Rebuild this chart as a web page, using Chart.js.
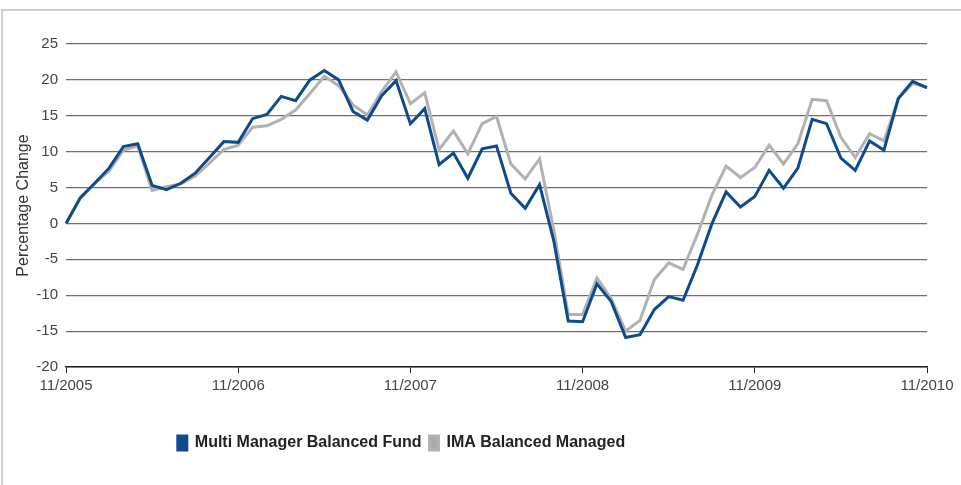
<!DOCTYPE html>
<html>
<head>
<meta charset="utf-8">
<script src="https://cdn.jsdelivr.net/npm/chart.js@4/dist/chart.umd.min.js"></script>
<style>
  html, body { margin: 0; padding: 0; background: #fff; }
  #wrap { position: relative; width: 961px; height: 485px; }
  #frame { position: absolute; left: 1px; top: 9px; right: -2px; bottom: -2px;
           border-top: 2px solid #cfcfcf; border-left: 2px solid #cfcfcf; }
  canvas { position: absolute; left: 0; top: 0; }
</style>
</head>
<body>
<div id="wrap">
  <div id="frame"></div>
  <canvas id="c" width="961" height="485"></canvas>
</div>
<script>
// monthly points, 11/2005 .. 11/2010
const startYear = 2005;
const months = [];
for (let i = 0; i <= 60; i++) {
  const m = ((10 + i) % 12) + 1;
  const y = startYear + Math.floor((10 + i) / 12);
  months.push(String(m).padStart(2, '0') + '/' + y);
}
const yearTicks = ['11/2005', '11/2006', '11/2007', '11/2008', '11/2009', '11/2010'];

const fund = [0, 3.6, 5.6, 7.7, 10.7, 11.1, 5.3, 4.7, 5.6, 7.0, 9.2, 11.4,
  11.3, 14.6, 15.2, 17.7, 17.1, 20.0, 21.3, 20.0, 15.6, 14.4, 17.8, 19.9,
  13.9, 16.0, 8.2, 9.8, 6.3, 10.4, 10.8, 4.2, 2.1, 5.4, -2.5, -13.6,
  -13.7, -8.4, -10.9, -15.9, -15.5, -12.0, -10.2, -10.7, -5.8, -0.1, 4.4, 2.3,
  3.75, 7.4, 4.9, 7.7, 14.5, 13.9, 9.1, 7.4, 11.5, 10.2, 17.4, 19.8, 18.9];

const sector = [0, 3.5, 5.6, 7.3, 10.2, 10.8, 4.6, 5.1, 5.5, 6.6, 8.4, 10.3,
  10.9, 13.4, 13.6, 14.5, 15.8, 18.1, 20.5, 19.2, 16.5, 15.1, 18.4, 21.1,
  16.7, 18.2, 10.3, 12.9, 9.7, 13.9, 14.9, 8.3, 6.2, 9.0, -1.0, -12.7,
  -12.7, -7.6, -10.5, -15.0, -13.5, -7.8, -5.5, -6.4, -1.5, 3.9, 8.0, 6.4,
  7.8, 10.9, 8.3, 11.1, 17.3, 17.1, 12.0, 9.2, 12.5, 11.5, 17.4, 19.5, 19.0];

const font = 'Liberation Sans, Arial, sans-serif';

// nudge the legend left so it sits under the plot like the original
const legendShift = {
  id: 'legendShift',
  afterLayout(chart) {
    chart.legend.left -= 62;
    chart.legend.right -= 62;
  }
};

new Chart(document.getElementById('c'), {
  type: 'line',
  data: {
    labels: months,
    datasets: [
      {
        label: 'Multi Manager Balanced Fund',
        data: fund,
        borderColor: '#0e4b8b',
        backgroundColor: '#0e4b8b',
        borderWidth: 3,
        pointRadius: 0,
        tension: 0,
        order: 1
      },
      {
        label: 'IMA Balanced Managed',
        data: sector,
        borderColor: '#b2b2b2',
        backgroundColor: '#a9a9a9',
        borderWidth: 3,
        pointRadius: 0,
        tension: 0,
        order: 2
      }
    ]
  },
  options: {
    responsive: false,
    animation: false,
    layout: { padding: { top: 44, right: 34, bottom: 24, left: 0 } },
    plugins: {
      tooltip: { enabled: false },
      legend: {
        position: 'bottom',
        labels: {
          color: '#222',
          font: { family: font, size: 16, weight: 'bold' },
          boxWidth: 9,
          boxHeight: 14,
          padding: 8
        }
      }
    },
    scales: {
      x: {
        offset: false,
        afterFit: s => { s.height = 60; },
        border: { display: true, color: '#222', width: 1.5 },
        grid: {
          drawOnChartArea: false,
          tickLength: 6,
          color: ctx => yearTicks.includes(months[ctx.index]) ? '#222' : 'rgba(0,0,0,0)'
        },
        ticks: {
          autoSkip: false,
          maxRotation: 0,
          color: '#444',
          padding: 4,
          font: { family: font, size: 15 },
          callback: (v, i) => yearTicks.includes(months[i]) ? months[i] : ''
        }
      },
      y: {
        min: -20,
        max: 25,
        afterFit: s => { s.width = 66; },
        border: { display: false },
        grid: { color: '#6f6f6f', lineWidth: 1.2, drawTicks: false },
        ticks: {
          stepSize: 5,
          color: '#444',
          padding: 8,
          font: { family: font, size: 15 }
        },
        title: {
          display: true,
          text: 'Percentage Change',
          color: '#333',
          padding: { top: 14, bottom: 4 },
          font: { family: font, size: 16 }
        }
      }
    }
  },
  plugins: [legendShift]
});
</script>
</body>
</html>
